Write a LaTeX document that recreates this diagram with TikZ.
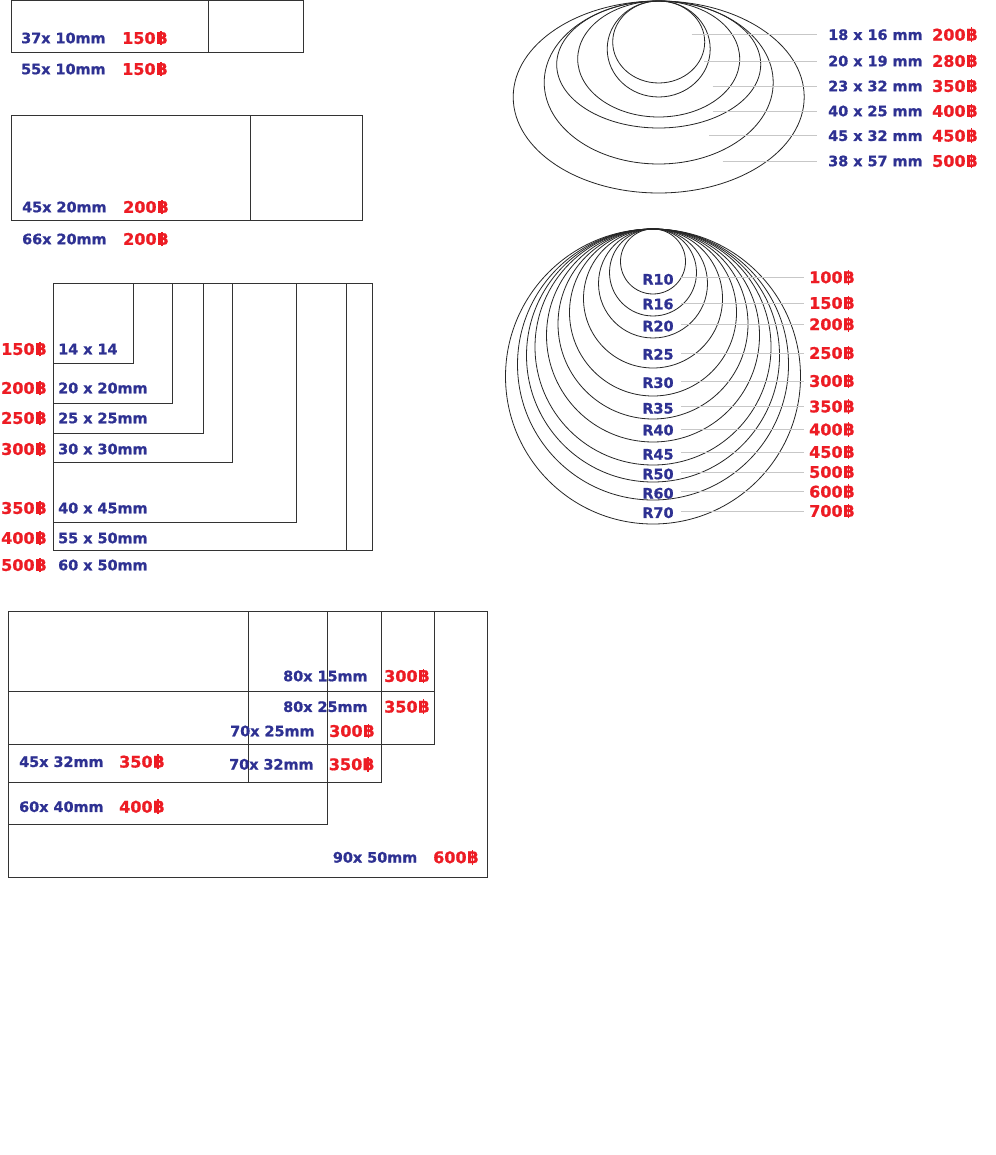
\documentclass[tikz,border=0pt]{standalone}
\usepackage{fontspec}
\setmainfont{DejaVu Sans}[BoldFeatures={FakeBold=0.9}]
\definecolor{szblue}{HTML}{2E3192}
\definecolor{prred}{HTML}{ED1C24}
\newcommand{\bt}{\ooalign{B\cr\hidewidth\rule[-0.1em]{0.09em}{0.93em}\hspace{0.06em}\hidewidth\cr}}
\tikzset{
  sz/.style={font=\fontsize{14.4}{14.4}\selectfont\bfseries, text=szblue, inner sep=0pt, anchor=west, text height=10.5pt, text depth=0pt},
  pr/.style={font=\fontsize{16}{16}\selectfont\bfseries, text=prred, inner sep=0pt, anchor=west, text height=11.7pt, text depth=0pt},
  rl/.style={sz, anchor=center},
  box/.style={draw=black!80, line width=1pt},
  ring/.style={draw=black!85, line width=0.8pt},
  lead/.style={draw=black!22, line width=0.9pt}
}
\begin{document}
\begin{tikzpicture}[x=1pt,y=-1pt]
\useasboundingbox[fill=white] (0,0) rectangle (995,1155);

% ---------- group 1: 37x10 / 55x10
\draw[box] (11,1) rectangle (303,53);
\draw[box] (208,1) -- (208,53);
\node[sz] (a1) at (21,38) {37x 10mm};
\node[pr] (a1p) at (122,38) {150\bt};
\node[sz] (a2) at (21,69) {55x 10mm};
\node[pr] (a2p) at (122,69) {150\bt};

% ---------- group 2: 45x20 / 66x20
\draw[box] (11,116) rectangle (362,221);
\draw[box] (250,116) -- (250,221);
\node[sz] (b1) at (22,207) {45x 20mm};
\node[pr] (b1p) at (123,207) {200\bt};
\node[sz] (b2) at (22,239) {66x 20mm};
\node[pr] (b2p) at (123,239) {200\bt};

% ---------- group 3: squares
\foreach \cx/\cy in {133/363,172/403,203/433,232/462,296/522,346/550,372/550}
  \draw[box] (53,284) rectangle (\cx,\cy);
\node[pr] (c1p) at (1,349) {150\bt};
\node[sz] (c1) at (58,349) {14 x 14};
\node[pr] (c2p) at (1,388) {200\bt};
\node[sz] (c2) at (58,388) {20 x 20mm};
\node[pr] (c3p) at (1,418) {250\bt};
\node[sz] (c3) at (58,418) {25 x 25mm};
\node[pr] (c4p) at (1,449) {300\bt};
\node[sz] (c4) at (58,449) {30 x 30mm};
\node[pr] (c5p) at (1,508) {350\bt};
\node[sz] (c5) at (58,508) {40 x 45mm};
\node[pr] (c6p) at (1,538) {400\bt};
\node[sz] (c6) at (58,538) {55 x 50mm};
\node[pr] (c7p) at (1,565) {500\bt};
\node[sz] (c7) at (58,565) {60 x 50mm};

% ---------- group 4: ellipses
\draw[ring] (658.7,42) ellipse[x radius=46pt, y radius=41pt];
\draw[ring] (658.7,49) ellipse[x radius=51.5pt, y radius=48pt];
\draw[ring] (658.7,59) ellipse[x radius=81pt, y radius=58pt];
\draw[ring] (658.7,64.5) ellipse[x radius=102pt, y radius=63.5pt];
\draw[ring] (658.7,82.5) ellipse[x radius=114.5pt, y radius=81.5pt];
\draw[ring] (658.7,97) ellipse[x radius=145.5pt, y radius=96pt];
\foreach \i/\y/\sx/\s/\p in {1/34.7/691.7/18 x 16 mm/200,2/61/704/20 x 19 mm/280,3/86/712.7/23 x 32 mm/350,4/111/712.7/40 x 25 mm/400,5/135.7/709.3/45 x 32 mm/450,6/161/722.7/38 x 57 mm/500}{
  \node[sz] (e\i) at (828,\y) {\s};
  \node[pr] (e\i p) at (932,\y) {\p\bt};
  \coordinate (el\i) at (\sx,\y);
  \draw[lead] (el\i) -- ([xshift=-11pt]e\i.west);
}

% ---------- group 5: circles
\foreach \d [evaluate=\d as \r using \d/2] in {65,87,109,139,167,190,213,236,253,271,295}
  \draw[ring] (653,229+\r) circle[radius=\r pt];
\foreach \i/\ly/\py/\t/\p in {1/279.3/277.3/R10/100,2/304/303/R16/150,3/326/324.3/R20/200,4/354.3/353/R25/250,5/382.7/381/R30/300,6/408.3/406.5/R35/350,7/430/429.5/R40/400,8/454.3/452/R45/450,9/474/472/R50/500,10/493.3/491.7/R60/600,11/512.7/511/R70/700}{
  \node[rl] (r\i) at (658,\ly) {\t};
  \node[pr] (r\i p) at (809,\py) {\p\bt};
  \draw[lead] ([xshift=7pt]r\i.east |- r\i p.west) -- ([xshift=-5pt]r\i p.west);
}

% ---------- group 6: large rectangles
\draw[box] (8,611) rectangle (487,877);
\draw[box] (8,611) rectangle (434,744);
\draw[box] (8,611) rectangle (434,691);
\draw[box] (8,611) rectangle (381,782);
\draw[box] (8,611) rectangle (381,744);
\draw[box] (8,611) rectangle (327,824);
\draw[box] (8,611) rectangle (248,782);
\node[sz] (f1) at (283,676) {80x 15mm};
\node[pr] (f1p) at (384,676) {300\bt};
\node[sz] (f2) at (283,706.7) {80x 25mm};
\node[pr] (f2p) at (384,706.7) {350\bt};
\node[sz] (f3) at (230,731) {70x 25mm};
\node[pr] (f3p) at (329,731) {300\bt};
\node[sz] (f4) at (19,761.7) {45x 32mm};
\node[pr] (f4p) at (119,761.7) {350\bt};
\node[sz] (f5) at (229,764.3) {70x 32mm};
\node[pr] (f5p) at (328.7,764.3) {350\bt};
\node[sz] (f6) at (19,806.7) {60x 40mm};
\node[pr] (f6p) at (119,806.7) {400\bt};
\node[sz] (f7) at (332.7,857.3) {90x 50mm};
\node[pr] (f7p) at (433,857.3) {600\bt};
\end{tikzpicture}
\end{document}
